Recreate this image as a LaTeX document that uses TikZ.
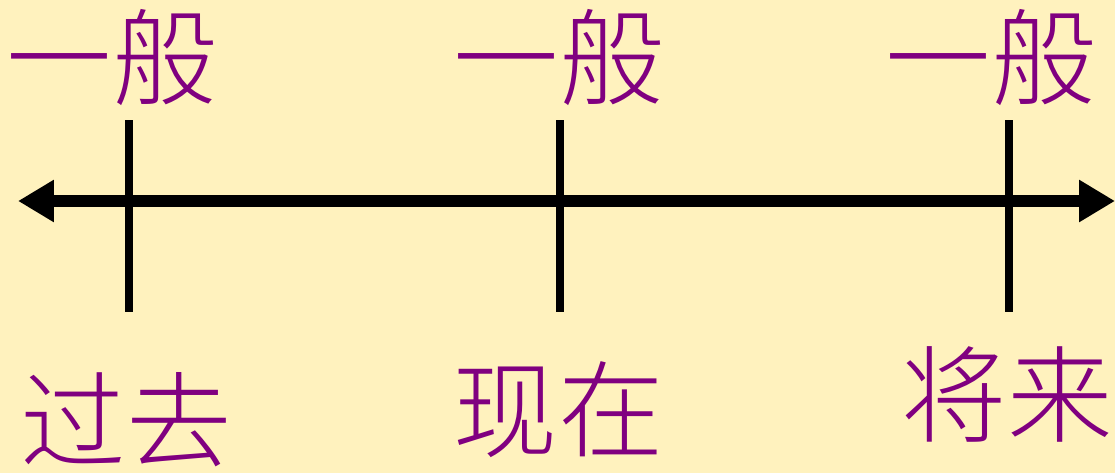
\documentclass[tikz,border=0pt]{standalone}
\usepackage{fontspec}
\usepackage{tikz}
\usepackage{xcolor}
\usetikzlibrary{arrows.meta,positioning,calc}
\newfontfamily\cjk{Noto Sans CJK SC}[UprightFont={* Light}]
\definecolor{bgyellow}{RGB}{255,242,190}
\definecolor{labelpurple}{RGB}{128,0,128}

\begin{document}
\begin{tikzpicture}[x=0.02cm,y=-0.02cm,
    lbl/.style={text=labelpurple,font=\cjk\fontsize{60}{62}\selectfont,inner sep=0pt},
    tickline/.style={line width=8*0.02cm},
    axisline/.style={line width=12*0.02cm,{Triangle[length=0.72cm,width=0.8cm]}-{Triangle[length=0.72cm,width=0.8cm]}}]
    % background and size (pixel grid, y downwards)
    \fill[bgyellow] (0,0) rectangle (1115,473);
    \useasboundingbox (0,0) rectangle (1115,473);

    % time axis
    \coordinate (left) at (18,201);
    \coordinate (right) at (1115,201);
    \draw[axisline] (left) -- (right);

    % ticks: past, present, future
    \coordinate (pastTop) at (129,120);
    \coordinate (pastBot) at (129,312);
    \coordinate (nowTop) at (560,120);
    \coordinate (nowBot) at (560,312);
    \coordinate (futTop) at (1009,120);
    \coordinate (futBot) at (1009,312);
    \draw[tickline] (pastTop) -- (pastBot);
    \draw[tickline] (nowTop) -- (nowBot);
    \draw[tickline] (futTop) -- (futBot);

    % labels above
    \node[lbl] (genPast) at (112,58) {一般};
    \node[lbl] (genNow) at (559,58) {一般};
    \node[lbl] (genFut) at (991,58) {一般};

    % labels below
    \node[lbl] (past) at (126,420) {过去};
    \node[lbl] (now) at (558,410) {现在};
    \node[lbl] (future) at (1007,394) {将来};

\end{tikzpicture}
\end{document}
